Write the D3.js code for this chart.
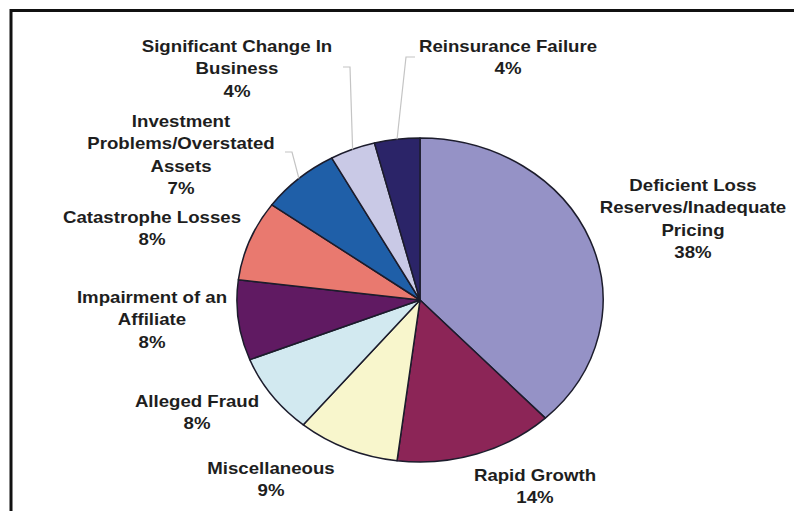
<!DOCTYPE html>
<html>
<head>
<meta charset="utf-8">
<script src="https://cdn.jsdelivr.net/npm/d3@7"></script>
<style>
  body { margin: 0; background: #fff; }
  svg { display: block; }
</style>
</head>
<body>
<svg></svg>
<script>
let categories = [
  "Deficient Loss Reserves/Inadequate Pricing",
  "Rapid Growth",
  "Miscellaneous",
  "Alleged Fraud",
  "Impairment of an Affiliate",
  "Catastrophe Losses",
  "Investment Problems/Overstated Assets",
  "Significant Change In Business",
  "Reinsurance Failure",
]
let percents = [38, 14, 9, 8, 8, 8, 7, 4, 4]

// how each label breaks into lines (percent goes last)
let labelLines = [
  ["Deficient Loss", "Reserves/Inadequate", "Pricing"],
  ["Rapid Growth"],
  ["Miscellaneous"],
  ["Alleged Fraud"],
  ["Impairment of an", "Affiliate"],
  ["Catastrophe Losses"],
  ["Investment", "Problems/Overstated", "Assets"],
  ["Significant Change In", "Business"],
  ["Reinsurance Failure"],
]

let colors = [
  "#9592c6",
  "#8c2557",
  "#f8f6cc",
  "#d2e9f0",
  "#601a62",
  "#e9796f",
  "#1f5fa8",
  "#c9c9e6",
  "#2b2468",
]

// layout: label centre x and first line centre y
let labelPos = [
  [693, 185],
  [535, 475],
  [271, 468],
  [197, 401],
  [152, 297],
  [152, 217],
  [181, 121],
  [237, 46],
  [508, 46],
]

// leader lines: index -> points near the label, the pie end is computed
let leaders = {
  6: [[285, 152], [292, 152]],
  7: [[343, 67], [350, 67]],
  8: [[415, 57], [406, 57]],
}

let width = 794
let height = 511
let cx = 420
let cy = 300
let radius = 162
let sx = 1.13
let lineGap = 22.3

let svg = d3.select('svg')
  .attr('width', width)
  .attr('height', height)

// frame (right and bottom run off the picture)
svg.append('rect')
  .attr('x', 11)
  .attr('y', 10.5)
  .attr('width', 820)
  .attr('height', 540)
  .attr('fill', 'none')
  .attr('stroke', '#111')
  .attr('stroke-width', 3)

let pie = d3.pie().sort(null).value((d) => d)
let arcs = pie(percents)
let arc = d3.arc().innerRadius(0).outerRadius(radius)

let pieG = svg.append('g')
  .attr('transform', `translate(${cx},${cy}) scale(${sx},1)`)

pieG.selectAll('path')
  .data(arcs)
  .enter()
  .append('path')
  .attr('d', arc)
  .attr('fill', (d, i) => colors[i])
  .attr('stroke', '#1c1c2c')
  .attr('stroke-width', 1.5)
  .attr('stroke-linejoin', 'round')
  .attr('vector-effect', 'non-scaling-stroke')

// leader lines
let line = d3.line()
Object.keys(leaders).forEach((k) => {
  let a = arcs[k]
  let mid = (a.startAngle + a.endAngle) / 2
  let edge = [cx + sx * radius * Math.sin(mid), cy - radius * Math.cos(mid)]
  svg.append('path')
    .attr('d', line(leaders[k].concat([edge])))
    .attr('fill', 'none')
    .attr('stroke', '#c4c4c4')
    .attr('stroke-width', 1.2)
})

// labels
categories.forEach((c, i) => {
  let lines = labelLines[i].concat([percents[i] + "%"])
  let t = svg.append('text')
    .attr('transform', `translate(${labelPos[i][0]},${labelPos[i][1] + 6}) scale(${sx},1)`)
    .attr('text-anchor', 'middle')
    .style('font-family', '"Liberation Sans", Arial, sans-serif')
    .style('font-weight', 'bold')
    .style('font-size', '16.5px')
    .style('fill', '#1e1e1e')
  lines.forEach((l, j) => {
    t.append('tspan')
      .attr('x', 0)
      .attr('y', j * lineGap)
      .text(l)
  })
})
</script>
</body>
</html>
